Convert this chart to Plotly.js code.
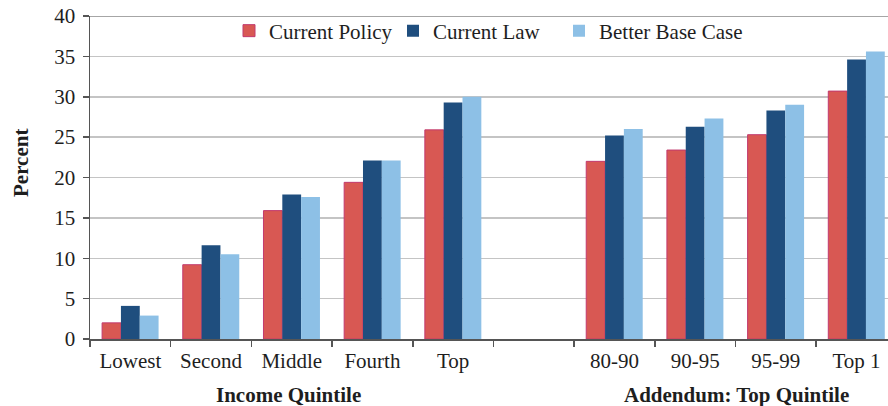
<!DOCTYPE html>
<html><head><meta charset="utf-8">
<script src="https://cdn.plot.ly/plotly-3.0.1.min.js"></script>
<style>html,body{margin:0;padding:0;background:#fff}</style>
</head><body>
<div id="chart" style="width:888px;height:406px"></div>
<script>
const categories = ["Lowest", "Second", "Middle", "Fourth", "Top", " ", "80-90", "90-95", "95-99", "Top 1"];
const currentPolicy = [2.0, 9.2, 15.9, 19.4, 25.9, null, 22.0, 23.4, 25.3, 30.7];
const currentLaw = [4.1, 11.6, 17.9, 22.1, 29.3, null, 25.2, 26.3, 28.3, 34.6];
const betterBaseCase = [2.9, 10.5, 17.6, 22.1, 30.0, null, 26.0, 27.3, 29.0, 35.6];
const yTicks = [0, 5, 10, 15, 20, 25, 30, 35, 40];

const font = "Liberation Serif, Times New Roman, serif";
const txt = "#1e1e1e";
const traces = [
  {type: "bar", name: "Current Policy", x: categories, y: currentPolicy, legend: "legend",
   marker: {color: "#d85853", line: {color: "#c23a6e", width: 1}}},
  {type: "bar", name: "Current Law", x: categories, y: currentLaw, legend: "legend2",
   marker: {color: "#1f4e7e", line: {width: 0}}},
  {type: "bar", name: "Better Base Case", x: categories, y: betterBaseCase, legend: "legend3",
   marker: {color: "#8dc0e6", line: {width: 0}}}
];
function leg(textStartPx) {
  return {orientation: "h", x: (textStartPx - 39 - 90) / 798, y: (339 - 31) / 323,
          xanchor: "left", yanchor: "middle", bgcolor: "rgba(0,0,0,0)", borderwidth: 0,
          font: {family: font, size: 21, color: txt}};
}
const layout = {
  width: 888, height: 406,
  margin: {l: 90, r: 0, t: 16, b: 67},
  paper_bgcolor: "#fff", plot_bgcolor: "#fff",
  font: {family: font, size: 21, color: txt},
  barmode: "group", bargap: 0.3, bargroupgap: 0,
  showlegend: true,
  legend: leg(268), legend2: leg(432), legend3: leg(598),
  xaxis: {type: "category", range: [-0.5, 9.39], showgrid: false,
          showline: true, linecolor: "#555", linewidth: 1.5,
          ticks: "outside", tickson: "boundaries", ticklen: 6, tickcolor: "#555", tickwidth: 1.5,
          ticklabelstandoff: 2,
          tickfont: {family: font, size: 21, color: txt}, fixedrange: true},
  yaxis: {range: [0, 40], tickvals: yTicks, ticktext: yTicks.map(String),
          showgrid: true, gridcolor: "#c4c4c4", gridwidth: 1.5,
          showline: true, linecolor: "#555", linewidth: 1.5,
          ticks: "outside", ticklen: 6, tickcolor: "#555", tickwidth: 1.5,
          ticklabelstandoff: 3,
          tickfont: {family: font, size: 21, color: txt}, zeroline: false, fixedrange: true},
  shapes: [{type: "line", xref: "paper", yref: "y", x0: 0, x1: 1, y0: 40, y1: 40,
            line: {color: "#888", width: 1.5}}],
  annotations: [
    {text: "<b>Percent</b>", xref: "paper", yref: "paper", x: (21 - 90) / 798, y: (339 - 163) / 323, textangle: -90,
     showarrow: false, xanchor: "center", yanchor: "middle", font: {family: font, size: 21, color: txt}},
    {text: "<b>Income Quintile</b>", xref: "paper", yref: "paper", x: (288 - 90) / 798, y: -(395 - 339) / 323,
     showarrow: false, xanchor: "center", yanchor: "middle", font: {family: font, size: 21, color: txt}},
    {text: "<b>Addendum: Top Quintile</b>", xref: "paper", yref: "paper", x: (736 - 90) / 798, y: -(395 - 339) / 323,
     showarrow: false, xanchor: "center", yanchor: "middle", font: {family: font, size: 21, color: txt}}
  ]
};
Plotly.newPlot("chart", traces, layout, {displayModeBar: false, staticPlot: true});
</script>
</body></html>
